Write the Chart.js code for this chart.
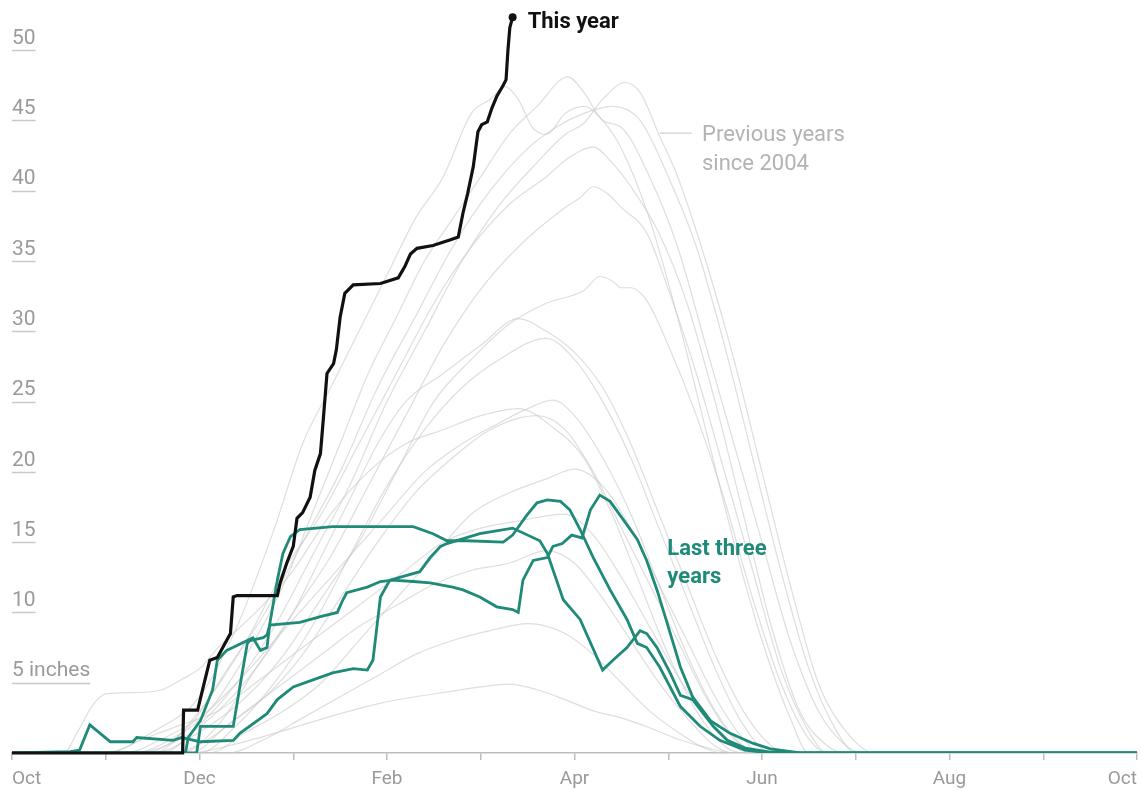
<!DOCTYPE html>
<html>
<head>
<meta charset="utf-8">
<script src="https://cdn.jsdelivr.net/npm/chart.js@4.4.1/dist/chart.umd.min.js"></script>
<style>
  html,body{margin:0;padding:0;background:#fff;}
  #wrap{width:1141px;height:790px;position:relative;}
</style>
</head>
<body>
<div id="wrap"><canvas id="c"></canvas></div>
<script>
// x = months since Oct 1 (0 = Oct, 12 = next Oct); y = snow water, inches
const xTickLabels = ['Oct','','Dec','','Feb','','Apr','','Jun','','Aug','','Oct'];
const yTickLabels = {5:'5 inches',10:'10',15:'15',20:'20',25:'25',30:'30',35:'35',40:'40',45:'45',50:'50'};

const thisYear = [[0,0],[1.82,0],[1.83,3.05],[1.98,3.05],[2.04,4.7],[2.11,6.6],[2.19,6.8],[2.33,8.5],[2.36,11.1],[2.40,11.2],[2.83,11.2],[2.86,12.1],[2.93,13.5],[3.00,14.7],[3.04,16.7],[3.10,17.1],[3.18,18.2],[3.23,20.1],[3.29,21.3],[3.32,23.7],[3.36,27],[3.43,27.7],[3.46,28.7],[3.50,31.0],[3.55,32.7],[3.64,33.3],[3.93,33.4],[4.12,33.8],[4.19,34.6],[4.25,35.5],[4.32,35.9],[4.49,36.1],[4.67,36.5],[4.76,36.7],[4.81,38.4],[4.86,39.8],[4.92,41.7],[4.97,44.2],[5.01,44.7],[5.07,44.9],[5.12,45.9],[5.17,46.7],[5.24,47.5],[5.27,47.9],[5.29,50.0],[5.31,51.6],[5.34,52.35]];

const recentA = [[0,0],[1.85,0],[1.88,1.1],[2.01,2.3],[2.14,4.5],[2.19,6.6],[2.29,7.3],[2.51,8.0],[2.57,8.2],[2.65,7.3],[2.72,7.5],[2.75,9.2],[2.83,12.3],[2.89,14.2],[2.97,15.4],[3.07,15.9],[3.42,16.1],[4.28,16.1],[4.49,15.6],[4.64,15.1],[4.85,15.1],[5.24,15.0],[5.34,15.5],[5.49,16.9],[5.60,17.8],[5.71,18.0],[5.85,17.9],[5.95,17.3],[6.06,15.9],[6.20,13.9],[6.38,11.6],[6.56,9.5],[6.67,7.8],[6.77,7.5],[6.91,6.1],[7.13,3.3],[7.34,1.9],[7.55,0.9],[7.82,0.2],[8.09,0],[12,0]];
const recentB = [[0,0],[1.97,0],[2.01,1.9],[2.36,1.9],[2.43,4.7],[2.51,7.8],[2.54,8.0],[2.68,8.2],[2.72,8.4],[2.75,9.1],[3.07,9.3],[3.29,9.7],[3.47,10.0],[3.53,10.9],[3.57,11.4],[3.79,11.8],[3.93,12.2],[4.06,12.3],[4.28,12.2],[4.46,12.1],[4.70,11.8],[4.81,11.6],[4.99,11.1],[5.17,10.4],[5.34,10.2],[5.40,10.0],[5.45,12.3],[5.56,13.7],[5.71,13.9],[5.77,14.7],[5.87,14.9],[5.97,15.5],[6.08,15.3],[6.17,17.3],[6.27,18.35],[6.38,17.9],[6.52,16.6],[6.67,15.2],[6.77,13.7],[6.88,11.6],[6.99,9.2],[7.13,6.1],[7.26,4.0],[7.45,2.3],[7.66,1.4],[7.90,0.7],[8.09,0.3],[8.41,0],[12,0]];
const recentC = [[0,0],[0.62,0.1],[0.72,0.2],[0.83,2.0],[0.94,1.4],[1.05,0.8],[1.29,0.8],[1.33,1.1],[1.72,0.9],[1.81,1.1],[2.01,0.8],[2.36,0.9],[2.43,1.4],[2.72,2.8],[2.83,3.8],[3.00,4.7],[3.21,5.2],[3.42,5.7],[3.64,6.0],[3.79,5.9],[3.85,6.6],[3.93,11.1],[4.03,12.3],[4.35,12.9],[4.46,13.9],[4.57,14.7],[4.64,14.9],[4.99,15.6],[5.34,16.0],[5.63,15.1],[5.71,14.2],[5.88,10.9],[6.06,9.5],[6.30,5.9],[6.41,6.6],[6.56,7.5],[6.70,8.7],[6.77,8.5],[6.88,7.5],[7.02,5.7],[7.13,4.1],[7.26,3.8],[7.34,3.1],[7.48,1.9],[7.63,0.9],[7.82,0.35],[8.09,0.07],[8.30,0],[12,0]];

const previousYears = [
 [[0,0],[1.3,0],[1.7,1],[2.1,3],[2.5,7],[2.9,12],[3.2,17],[3.5,22],[3.8,27],[4.1,31],[4.4,35],[4.7,38],[5.0,41],[5.3,44],[5.6,46],[5.93,48.1],[6.1,47],[6.3,45],[6.5,44.5],[6.8,41],[7.1,36],[7.4,29],[7.7,22],[8.0,15],[8.3,8],[8.6,3],[8.9,0.5],[9.1,0],[12,0]],
 [[0,0],[1.6,0],[2.0,2],[2.4,5],[2.8,9],[3.2,14],[3.6,19],[4.0,25],[4.4,30],[4.8,35],[5.2,39],[5.6,42],[5.9,44],[6.1,44.8],[6.3,46.5],[6.54,47.7],[6.7,47],[6.9,44],[7.1,41],[7.4,35],[7.7,28],[8.0,20],[8.3,12],[8.6,5],[8.9,1.5],[9.2,0],[12,0]],
 [[0,0],[1.0,0],[1.5,1.5],[2.0,4],[2.4,9],[2.8,16],[3.1,22],[3.4,26],[3.7,30],[4.0,34],[4.3,38],[4.6,41],[4.9,45.5],[5.1,46.5],[5.26,47.4],[5.4,46.5],[5.55,44.5],[5.7,44],[5.9,45.5],[6.1,46],[6.3,45],[6.5,43],[6.8,38],[7.1,31],[7.4,23],[7.7,15],[8.0,8],[8.3,2.5],[8.5,0],[12,0]],
 [[0,0],[1.4,0],[1.9,2],[2.3,6],[2.7,10],[3.1,15],[3.5,20],[3.9,26],[4.3,31],[4.7,36],[5.1,40],[5.5,43],[5.8,44.5],[6.1,45.5],[6.4,46],[6.7,45],[7.0,41],[7.3,36],[7.6,29],[7.9,21],[8.2,13],[8.5,6],[8.8,1.5],[9.0,0],[12,0]],
 [[0,0],[1.5,0],[2.0,3],[2.5,8],[2.9,13],[3.3,17],[3.7,22],[4.1,27],[4.5,32],[4.9,36],[5.3,39],[5.7,41],[5.95,42.4],[6.2,43.1],[6.4,42],[6.6,40.3],[6.9,37],[7.2,32],[7.5,25],[7.8,17],[8.1,9],[8.4,3],[8.7,0.5],[8.9,0],[12,0]],
 [[0,0],[1.8,0],[2.2,2],[2.6,6],[3.0,10],[3.4,14],[3.8,19],[4.2,24],[4.6,29],[5.0,33],[5.4,36],[5.9,38.8],[6.06,39.5],[6.2,40.3],[6.35,39.8],[6.5,38.8],[6.77,37],[7.0,33],[7.3,27],[7.6,20],[7.9,13],[8.2,6],[8.5,1.5],[8.7,0],[12,0]],
 [[0,0],[1.5,0],[2.0,1.5],[2.5,4],[2.9,7],[3.3,11],[3.7,15],[4.1,20],[4.5,25],[4.9,28],[5.3,30.5],[5.7,32],[6.1,32.9],[6.27,33.9],[6.4,33.6],[6.5,33.1],[6.6,33.1],[6.77,32.2],[7.0,29],[7.3,24],[7.6,18],[7.9,11],[8.2,5],[8.5,1],[8.7,0],[12,0]],
 [[0,0],[1.3,0],[1.8,1],[2.2,3],[2.6,6],[3.0,10],[3.3,14],[3.6,18],[3.9,22],[4.2,25],[4.6,27],[5.0,29],[5.4,30.9],[5.7,30],[6.0,28.5],[6.3,26],[6.6,22],[6.9,17],[7.2,12],[7.5,7],[7.8,3],[8.1,0.5],[8.3,0],[12,0]],
 [[0,0],[2.0,0],[2.4,2],[2.8,5],[3.2,9],[3.6,14],[4.0,19],[4.4,23],[4.8,26],[5.2,28],[5.7,29.5],[6.0,28],[6.3,25],[6.6,21],[6.9,16],[7.2,11],[7.5,6],[7.8,2],[8.1,0],[12,0]],
 [[0,0],[1.2,0],[1.6,1],[2.0,2.5],[2.4,5],[2.8,8],[3.2,11],[3.6,14],[4.0,17],[4.4,20],[4.8,22],[5.2,23.5],[5.5,24.5],[5.77,25.1],[6.0,24],[6.3,21],[6.6,17],[6.9,12],[7.2,7],[7.5,3],[7.8,0.5],[8.0,0],[12,0]],
 [[0,0],[1.9,0],[2.3,2],[2.7,4],[3.1,7],[3.5,11],[3.9,15],[4.3,18.5],[4.7,21],[5.1,23],[5.6,24],[5.9,23],[6.2,20],[6.5,16],[6.8,12],[7.1,8],[7.4,4],[7.7,1],[8.0,0],[12,0]],
 [[0,0],[2.1,0],[2.5,1.5],[2.9,3],[3.3,5],[3.7,8],[4.1,11],[4.5,14],[4.9,17],[5.3,18.5],[5.7,19.5],[6.0,20.2],[6.3,19],[6.6,16],[6.9,12],[7.2,8],[7.5,4],[7.8,1],[8.0,0],[12,0]],
 [[0,0],[1.0,0],[1.4,1],[1.8,2],[2.2,3],[2.6,5],[3.0,7],[3.4,9],[3.8,11],[4.2,13],[4.6,15],[5.0,16],[5.4,16.5],[5.9,17],[6.2,15.5],[6.5,12.5],[6.8,9],[7.1,5.5],[7.4,2.5],[7.7,0.5],[7.9,0],[12,0]],
 [[0,0],[1.7,0],[2.1,1],[2.5,3],[2.9,5],[3.3,7],[3.7,9],[4.1,10.5],[4.5,12],[4.9,13],[5.3,13.5],[5.7,14.4],[6.0,13.5],[6.3,11],[6.6,8],[6.9,5],[7.2,2.5],[7.5,0.5],[7.7,0],[12,0]],
 [[0,0],[2.3,0],[2.7,1],[3.1,2.5],[3.5,4],[3.9,5.5],[4.3,7],[4.7,8],[5.1,8.7],[5.5,9.2],[5.9,8.5],[6.2,7],[6.5,5],[6.8,3],[7.1,1.5],[7.4,0.3],[7.6,0],[12,0]],
 [[0,0],[1.9,0],[2.3,0.5],[2.7,1.2],[3.1,2],[3.5,2.8],[3.9,3.5],[4.3,4],[4.7,4.4],[5.0,4.7],[5.3,4.9],[5.6,4.5],[5.9,3.8],[6.2,3.0],[6.5,2.5],[6.8,1.8],[7.1,1],[7.4,0.4],[7.7,0],[12,0]],
 [[0,0],[0.55,0],[0.7,1.5],[0.85,3.3],[1.0,4.2],[1.3,4.3],[1.6,4.5],[1.8,5.2],[2.0,6],[2.2,7.5],[2.6,10],[3.0,13],[3.4,17],[3.8,20],[4.2,22],[4.6,23],[5.0,24],[5.4,24.5],[5.8,23],[6.1,21],[6.4,17],[6.7,12],[7.0,7],[7.3,3],[7.6,0.5],[7.8,0],[12,0]]
];

const toXY = arr => arr.map(p => ({x: p[0], y: p[1]}));
const FONT = 'Roboto, "Liberation Sans", Arial, sans-serif';
const TEAL = '#1f8a78';

const datasets = [];
datasets.push({
  label: 'This year', data: toXY(thisYear), borderColor: '#111', backgroundColor: '#111',
  borderWidth: 3.2, tension: 0, order: 0, clip: false,
  pointRadius: ctx => ctx.dataIndex === thisYear.length - 1 ? 4 : 0,
  pointBackgroundColor: '#111', pointBorderWidth: 0
});
[recentA, recentB, recentC].forEach((d, i) => datasets.push({
  label: 'Last three years ' + i, data: toXY(d), borderColor: TEAL, borderWidth: 2.8,
  tension: 0, pointRadius: 0, order: 1
}));
previousYears.forEach((d, i) => datasets.push({
  label: 'Previous ' + i, data: toXY(d), borderColor: 'rgba(200,200,200,0.6)', borderWidth: 1.2,
  cubicInterpolationMode: 'monotone', pointRadius: 0, order: 2
}));

const annotations = {
  id: 'annotations',
  beforeDatasetsDraw(chart) {
    const {ctx, scales: {x, y}} = chart;
    ctx.save();
    ctx.font = '21px ' + FONT;
    ctx.strokeStyle = '#c9c9c9';
    ctx.lineWidth = 1.5;
    Object.keys(yTickLabels).forEach(v => {
      const w = ctx.measureText(yTickLabels[v]).width;
      const py = Math.round(y.getPixelForValue(+v)) + 0.5;
      ctx.beginPath(); ctx.moveTo(x.left, py); ctx.lineTo(x.left + w, py); ctx.stroke();
    });
    ctx.restore();
  },
  afterDatasetsDraw(chart) {
    const {ctx, scales: {x, y}} = chart;
    ctx.save();
    ctx.textBaseline = 'middle';
    ctx.textAlign = 'left';
    ctx.font = 'bold 22px ' + FONT;
    ctx.fillStyle = '#111';
    ctx.fillText('This year', x.getPixelForValue(5.50), y.getPixelForValue(52.0));
    ctx.font = '22px ' + FONT;
    ctx.fillStyle = '#b3b3b3';
    ctx.fillText('Previous years', x.getPixelForValue(7.36), y.getPixelForValue(43.9));
    ctx.fillText('since 2004', x.getPixelForValue(7.36), y.getPixelForValue(41.9));
    ctx.strokeStyle = '#cfcfcf'; ctx.lineWidth = 1.3;
    ctx.beginPath();
    ctx.moveTo(x.getPixelForValue(6.91), y.getPixelForValue(44.1));
    ctx.lineTo(x.getPixelForValue(7.25), y.getPixelForValue(44.1));
    ctx.stroke();
    ctx.font = 'bold 22px ' + FONT;
    ctx.fillStyle = TEAL;
    ctx.fillText('Last three', x.getPixelForValue(6.99), y.getPixelForValue(14.5));
    ctx.fillText('years', x.getPixelForValue(6.99), y.getPixelForValue(12.5));
    ctx.restore();
  }
};

new Chart(document.getElementById('c'), {
  type: 'line',
  data: { datasets },
  plugins: [annotations],
  options: {
    responsive: true, maintainAspectRatio: false, animation: false,
    layout: { padding: { left: 12, right: 4, top: 8, bottom: 0 } },
    plugins: { legend: { display: false }, tooltip: { enabled: false } },
    scales: {
      x: {
        type: 'linear', min: 0, max: 12,
        border: { display: true, color: '#bdbdbd', width: 1.5 },
        grid: { display: true, drawOnChartArea: false, drawTicks: true, tickLength: 7, color: '#bdbdbd', lineWidth: 1.5 },
        ticks: {
          stepSize: 1, autoSkip: false, maxRotation: 0, align: 'inner', padding: 8,
          color: '#9a9a9a', font: { family: FONT, size: 19 },
          callback: v => xTickLabels[v] ?? ''
        },
        afterFit: s => { s.paddingLeft = 0; s.paddingRight = 0; s.height = 37; }
      },
      y: {
        type: 'linear', min: 0, max: 53,
        border: { display: false },
        grid: { display: false, drawTicks: false },
        afterBuildTicks: s => { s.ticks = s.ticks.filter(t => yTickLabels[t.value] !== undefined); },
        ticks: {
          stepSize: 5, mirror: true, padding: 0,
          color: '#9a9a9a', font: { family: FONT, size: 21, lineHeight: 1.1 },
          callback: v => [yTickLabels[v] ?? '', '']
        },
        afterFit: s => { s.paddingTop = 0; s.paddingBottom = 0; }
      }
    }
  }
});
</script>
</body>
</html>
